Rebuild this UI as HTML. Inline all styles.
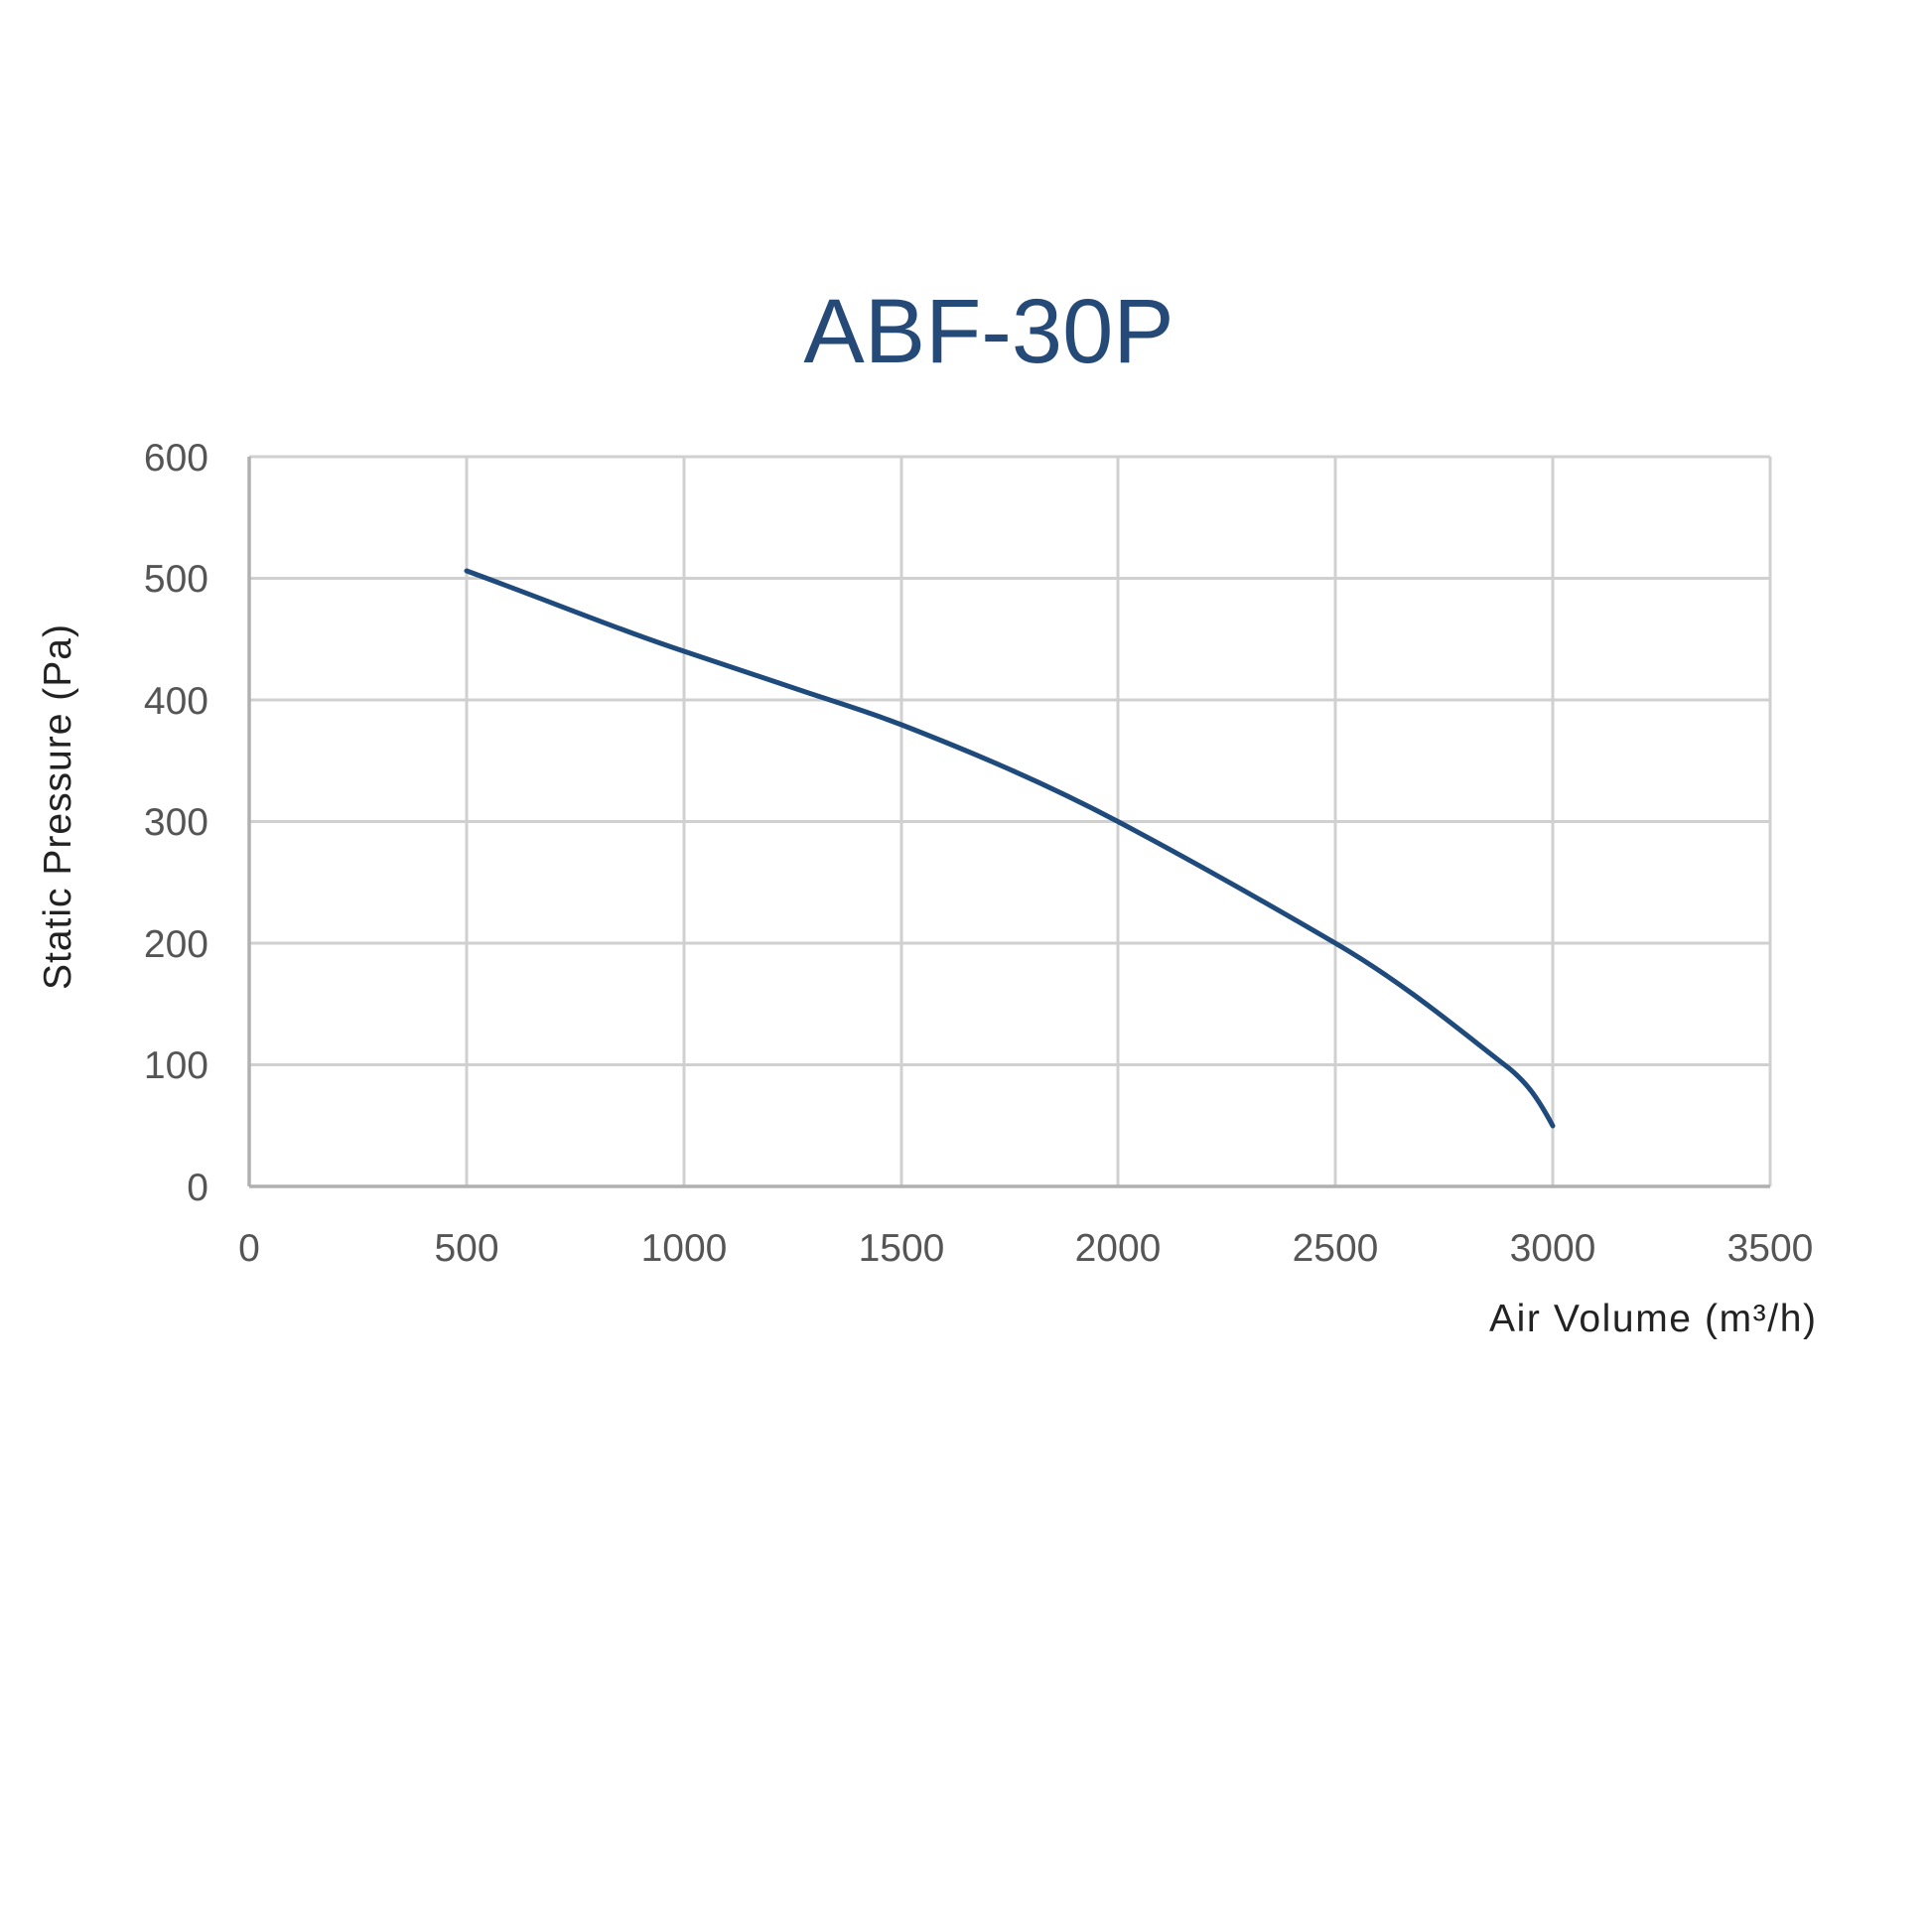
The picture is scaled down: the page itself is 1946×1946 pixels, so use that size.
<!DOCTYPE html>
<html><head><meta charset="utf-8"><style>
body{margin:0;background:#fff}
svg{display:block}
</style></head><body>
<svg width="1946" height="1946" viewBox="0 0 1946 1946" xmlns="http://www.w3.org/2000/svg">
<rect width="1946" height="1946" fill="#fff"/>
<text x="996" y="365" text-anchor="middle" font-family="Liberation Sans, sans-serif" font-size="92" fill="#264a77">ABF-30P</text>
<g stroke="#d0d0d0" stroke-width="3" fill="none">
<line x1="251" y1="460" x2="1783" y2="460"/>
<line x1="251" y1="582.5" x2="1783" y2="582.5"/>
<line x1="251" y1="705" x2="1783" y2="705"/>
<line x1="251" y1="827.5" x2="1783" y2="827.5"/>
<line x1="251" y1="950" x2="1783" y2="950"/>
<line x1="251" y1="1072.5" x2="1783" y2="1072.5"/>
<line x1="470" y1="460" x2="470" y2="1195"/>
<line x1="689" y1="460" x2="689" y2="1195"/>
<line x1="908" y1="460" x2="908" y2="1195"/>
<line x1="1126" y1="460" x2="1126" y2="1195"/>
<line x1="1345" y1="460" x2="1345" y2="1195"/>
<line x1="1564" y1="460" x2="1564" y2="1195"/>
<line x1="1783" y1="460" x2="1783" y2="1195"/>
</g>
<g stroke="#b0b0b0" stroke-width="3.5">
<line x1="251" y1="460" x2="251" y2="1195"/>
<line x1="251" y1="1195" x2="1783" y2="1195"/>
</g>
<path d="M470,575 C560,608 620,633 689,656 S796,692 842,707 S886,722 908,730 C985,760 1055,790 1126,827.5 S1273,908 1345,950 S1473,1040 1520,1076 C1537,1090 1548,1104 1564,1134" fill="none" stroke="#1f4a7c" stroke-width="5" stroke-linecap="round"/>
<g font-family="Liberation Sans, sans-serif" font-size="39" fill="#555" text-anchor="end">
<text x="210" y="474">600</text>
<text x="210" y="596">500</text>
<text x="210" y="719">400</text>
<text x="210" y="841">300</text>
<text x="210" y="964">200</text>
<text x="210" y="1086">100</text>
<text x="210" y="1209">0</text>
</g>
<g font-family="Liberation Sans, sans-serif" font-size="39" fill="#555" text-anchor="middle">
<text x="251" y="1270">0</text>
<text x="470" y="1270">500</text>
<text x="689" y="1270">1000</text>
<text x="908" y="1270">1500</text>
<text x="1126" y="1270">2000</text>
<text x="1345" y="1270">2500</text>
<text x="1564" y="1270">3000</text>
<text x="1783" y="1270">3500</text>
</g>
<text transform="translate(71,813) rotate(-90)" text-anchor="middle" font-family="Liberation Sans, sans-serif" font-size="39" fill="#222" textLength="368" lengthAdjust="spacing">Static Pressure (Pa)</text>
<text x="1500" y="1341" font-family="Liberation Sans, sans-serif" font-size="39" fill="#222" textLength="329" lengthAdjust="spacing">Air Volume (m³/h)</text>
</svg>
</body></html>
